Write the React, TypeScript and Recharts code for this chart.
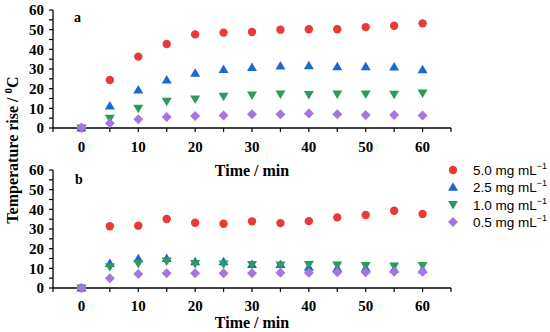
import React from 'react';
import { ScatterChart, Scatter, XAxis, YAxis } from 'recharts';

const times = [0, 5, 10, 15, 20, 25, 30, 35, 40, 45, 50, 55, 60];

// Panel a
const a50 = [0, 24.4, 36.3, 42.7, 47.6, 48.5, 48.8, 50.0, 50.2, 50.2, 51.3, 52.0, 53.2];
const a25 = [0, 11.2, 19.3, 24.4, 27.8, 29.8, 30.7, 31.5, 31.7, 31.2, 31.2, 31.0, 29.6];
const a10 = [0, 4.9, 10.0, 13.6, 14.7, 16.1, 16.8, 17.3, 17.0, 17.3, 17.3, 17.2, 17.8];
const a05 = [0.3, 2.4, 4.4, 5.6, 6.1, 6.3, 7.0, 7.0, 7.4, 7.0, 6.6, 6.6, 6.3];

// Panel b
const b50 = [0, 31.4, 31.7, 35.1, 33.2, 32.7, 33.9, 33.0, 34.0, 35.9, 37.1, 39.3, 37.6];
const b25 = [0, 12.5, 14.9, 15.0, 13.4, 13.4, 12.0, 12.0, 10.5, 10.0, 10.0, 9.5, 9.3];
const b10 = [0, 10.8, 12.5, 13.7, 12.5, 12.2, 12.0, 11.7, 12.0, 11.7, 11.5, 11.2, 11.5];
const b05 = [0, 4.9, 7.1, 7.5, 7.5, 7.5, 7.5, 7.8, 7.8, 8.0, 8.0, 8.3, 8.3];

const seriesNames = ['5.0', '2.5', '1.0', '0.5'];
const seriesColors = ['#E93A3B', '#1E66D2', '#2E9A5E', '#A675E2'];
const seriesShapes = ['circle', 'triangle', 'triangleDown', 'diamond'];

const xTicks = [-5, 0, 5, 10, 15, 20, 25, 30, 35, 40, 45, 50, 55, 60, 65];
const yTicks = [0, 5, 10, 15, 20, 25, 30, 35, 40, 45, 50, 55, 60];

const toData = (vals: number[]) => times.map((t, i) => ({ x: t, y: vals[i] }));

function Marker({ kind, cx, cy, fill }: { kind: string; cx: number; cy: number; fill: string }) {
  if (kind === 'circle') return <circle cx={cx} cy={cy} r={4.2} fill={fill} />;
  if (kind === 'triangle')
    return <polygon points={`${cx},${cy - 5} ${cx + 5},${cy + 3.5} ${cx - 5},${cy + 3.5}`} fill={fill} />;
  if (kind === 'triangleDown')
    return <polygon points={`${cx},${cy + 5} ${cx + 5},${cy - 3.5} ${cx - 5},${cy - 3.5}`} fill={fill} />;
  return <polygon points={`${cx},${cy - 5} ${cx + 5},${cy} ${cx},${cy + 5} ${cx - 5},${cy}`} fill={fill} />;
}

const tickStyle = { fontFamily: '"Liberation Serif", "Times New Roman", serif', fontWeight: 700, fontSize: 15, fill: '#000' };
const fmt = (v: number) => (v % 10 === 0 && v >= 0 && v <= 60 ? String(v) : '');

function Panel({ sets, height, top, xAxisHeight, labelOffset, tickMargin }: { sets: number[][]; height: number; top: number; xAxisHeight: number; labelOffset: number; tickMargin: number }) {
  return (
    <div style={{ position: 'absolute', left: 0, top }}>
      <ScatterChart width={550} height={height} margin={{ top: 10, right: 99, bottom: 0, left: 0 }}>
        <XAxis
          type="number"
          dataKey="x"
          domain={[-5, 65]}
          ticks={xTicks}
          tickFormatter={fmt}
          interval={0}
          allowDataOverflow
          height={xAxisHeight}
          tick={tickStyle}
          tickSize={4}
          tickMargin={tickMargin}
          axisLine={{ stroke: '#000', strokeWidth: 1.3 }}
          tickLine={{ stroke: '#000', strokeWidth: 1.2 }}
          label={{
            value: 'Time / min',
            position: 'insideBottom',
            offset: labelOffset,
            style: { fontFamily: '"Liberation Serif", "Times New Roman", serif', fontWeight: 700, fontSize: 16, fill: '#000' },
          }}
        />
        <YAxis
          type="number"
          dataKey="y"
          domain={[0, 60]}
          ticks={yTicks}
          tickFormatter={fmt}
          interval={0}
          width={53}
          tick={tickStyle}
          tickSize={4}
          tickMargin={5}
          axisLine={{ stroke: '#000', strokeWidth: 1.3 }}
          tickLine={{ stroke: '#000', strokeWidth: 1.2 }}
        />
        {sets.map((vals, i) => (
          <Scatter
            key={i}
            data={toData(vals)}
            fill={seriesColors[i]}
            isAnimationActive={false}
            shape={(p: any) => <Marker kind={seriesShapes[i]} cx={p.cx} cy={p.cy} fill={seriesColors[i]} />}
          />
        ))}
      </ScatterChart>
    </div>
  );
}

export default function App() {
  const serif = '"Liberation Serif", "Times New Roman", serif';
  return (
    <div style={{ position: 'absolute', left: 0, top: 0, width: 550, height: 332, background: '#fff', overflow: 'hidden' }}>
      <Panel sets={[a50, a25, a10, a05]} height={180} top={0} xAxisHeight={52} labelOffset={4} tickMargin={9} />
      <Panel sets={[b50, b25, b10, b05]} height={172} top={160} xAxisHeight={44} labelOffset={4} tickMargin={8} />
      <svg width={550} height={332} style={{ position: 'absolute', left: 0, top: 0, pointerEvents: 'none' }}>
        <text x={74} y={22} fontFamily={serif} fontWeight={700} fontSize={14} fill="#000">a</text>
        <text x={75} y={184} fontFamily={serif} fontWeight={700} fontSize={14} fill="#000">b</text>
        <text
          transform="translate(17.5,150) rotate(-90)"
          textAnchor="middle"
          fontFamily={serif}
          fontWeight={700}
          fontSize={16}
          fill="#000"
        >
          Temperature rise / <tspan dy={-6} fontSize={11}>0</tspan><tspan dy={6}>C</tspan>
        </text>
        {seriesNames.map((n, i) => {
          const cy = 170 + i * 17.3;
          return (
            <g key={n}>
              <Marker kind={seriesShapes[i]} cx={453} cy={cy} fill={seriesColors[i]} />
              <text x={473} y={cy + 5} fontFamily='"Liberation Sans", Arial, sans-serif' fontSize={13.5} fill="#000">
                {n} mg mL<tspan dy={-6} fontSize={9}>−1</tspan>
              </text>
            </g>
          );
        })}
      </svg>
    </div>
  );
}
